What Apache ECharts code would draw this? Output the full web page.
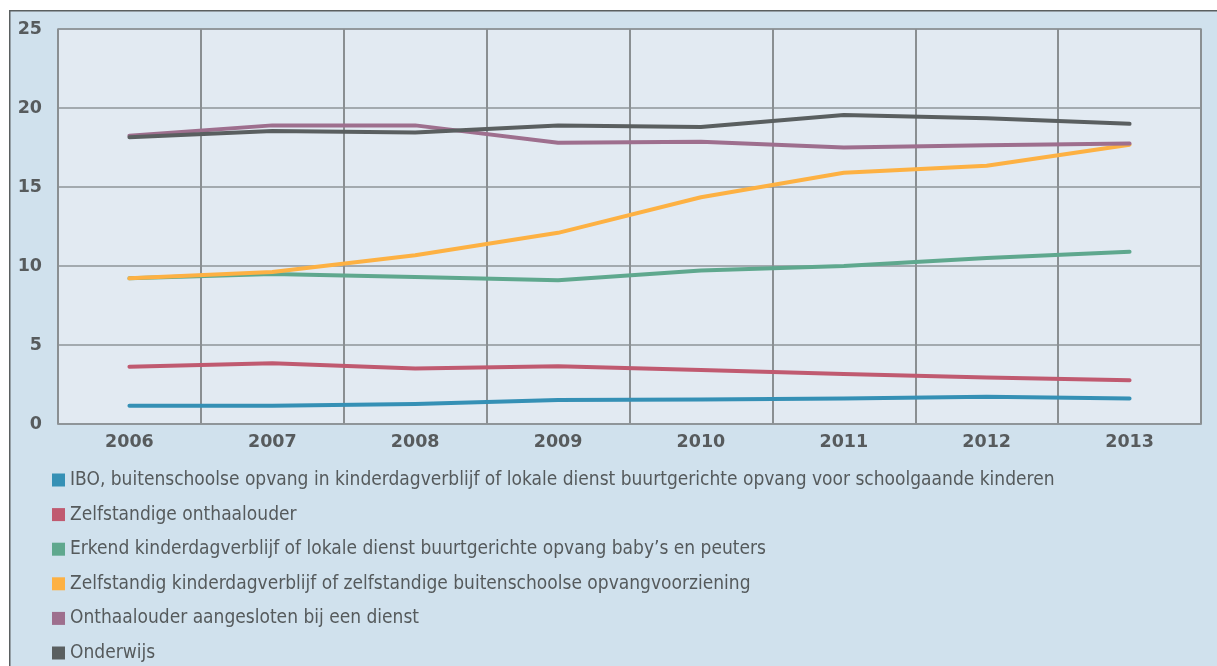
<!DOCTYPE html>
<html>
<head>
<meta charset="utf-8">
<script src="https://cdn.jsdelivr.net/npm/echarts@6/dist/echarts.min.js"></script>
<style>
html,body{margin:0;padding:0;background:#ffffff;}
#c{width:1217px;height:666px;}
</style>
</head>
<body>
<div id="c"></div>
<script>
const years = ['2006','2007','2008','2009','2010','2011','2012','2013'];
const seriesNames = [
  'IBO, buitenschoolse opvang in kinderdagverblijf of lokale dienst buurtgerichte opvang voor schoolgaande kinderen',
  'Zelfstandige onthaalouder',
  'Erkend kinderdagverblijf of lokale dienst buurtgerichte opvang baby\u2019s en peuters',
  'Zelfstandig kinderdagverblijf of zelfstandige buitenschoolse opvangvoorziening',
  'Onthaalouder aangesloten bij een dienst',
  'Onderwijs'
];
const ibo = [1.15, 1.15, 1.27, 1.52, 1.55, 1.62, 1.72, 1.62];
const zelfOnthaal = [3.62, 3.84, 3.52, 3.66, 3.42, 3.16, 2.95, 2.77];
const erkend = [9.22, 9.5, 9.3, 9.1, 9.72, 10.0, 10.5, 10.9];
const zelfKdv = [9.22, 9.62, 10.68, 12.1, 14.35, 15.9, 16.35, 17.68];
const onthaalDienst = [18.25, 18.9, 18.9, 17.8, 17.87, 17.5, 17.65, 17.75];
const onderwijs = [18.15, 18.55, 18.45, 18.9, 18.8, 19.55, 19.35, 19.0];
const yTicks = [0, 5, 10, 15, 20, 25];

const colors = ['#3590b5', '#c05a70', '#5fa88e', '#fdb143', '#9e6f8e', '#5a5f60'];
const allData = [ibo, zelfOnthaal, erkend, zelfKdv, onthaalDienst, onderwijs];

const chart = echarts.init(document.getElementById('c'), null, {renderer:'canvas'});
const labelFont = '"DejaVu Sans", sans-serif';
const legendFont = '"Liberation Sans Narrow", "DejaVu Sans Condensed", "Open Sans", sans-serif';

chart.setOption({
  backgroundColor: '#ffffff',
  animation: false,
  graphic: [{
    type: 'rect',
    left: 9, top: 10,
    shape: {width: 1230, height: 680},
    style: {fill: '#d0e1ed', stroke: '#5a5f60', lineWidth: 1.5},
    z: -10, silent: true
  }],
  grid: {
    left: 58, right: 16, top: 29, bottom: 242,
    show: true, backgroundColor: '#e2eaf2', borderColor: '#8e9498', borderWidth: 1.5
  },
  legend: {
    orient: 'vertical',
    left: 52, top: 469,
    height: 200,
    padding: 0,
    icon: 'rect',
    itemWidth: 13, itemHeight: 13,
    itemGap: 12.6,
    textStyle: {fontFamily: legendFont, fontSize: 19, color: '#555a5c', lineHeight: 22},
    data: seriesNames
  },
  xAxis: {
    type: 'category',
    data: years,
    boundaryGap: true,
    axisLine: {show: true, lineStyle: {color: '#8e9498', width: 1.5}},
    axisTick: {show: false},
    splitLine: {show: true, lineStyle: {color: '#8a8f92', width: 2}},
    axisLabel: {fontFamily: labelFont, fontWeight: 'bold', fontSize: 17.5, color: '#575b5d', margin: 9}
  },
  yAxis: {
    type: 'value',
    min: 0, max: 25, interval: 5,
    axisLine: {show: false},
    axisTick: {show: false},
    splitLine: {show: true, lineStyle: {color: '#8e9498', width: 1.5}},
    axisLabel: {fontFamily: labelFont, fontWeight: 'bold', fontSize: 17.5, color: '#575b5d', margin: 16,
      formatter: v => yTicks.includes(v) ? String(v) : ''}
  },
  series: seriesNames.map((n, i) => ({
    name: n,
    type: 'line',
    data: allData[i],
    showSymbol: false,
    symbol: 'none',
    color: colors[i],
    lineStyle: {width: 4, color: colors[i], cap: 'round', join: 'round'},
    itemStyle: {color: colors[i]},
    z: 2 + i
  }))
});
</script>
</body>
</html>
